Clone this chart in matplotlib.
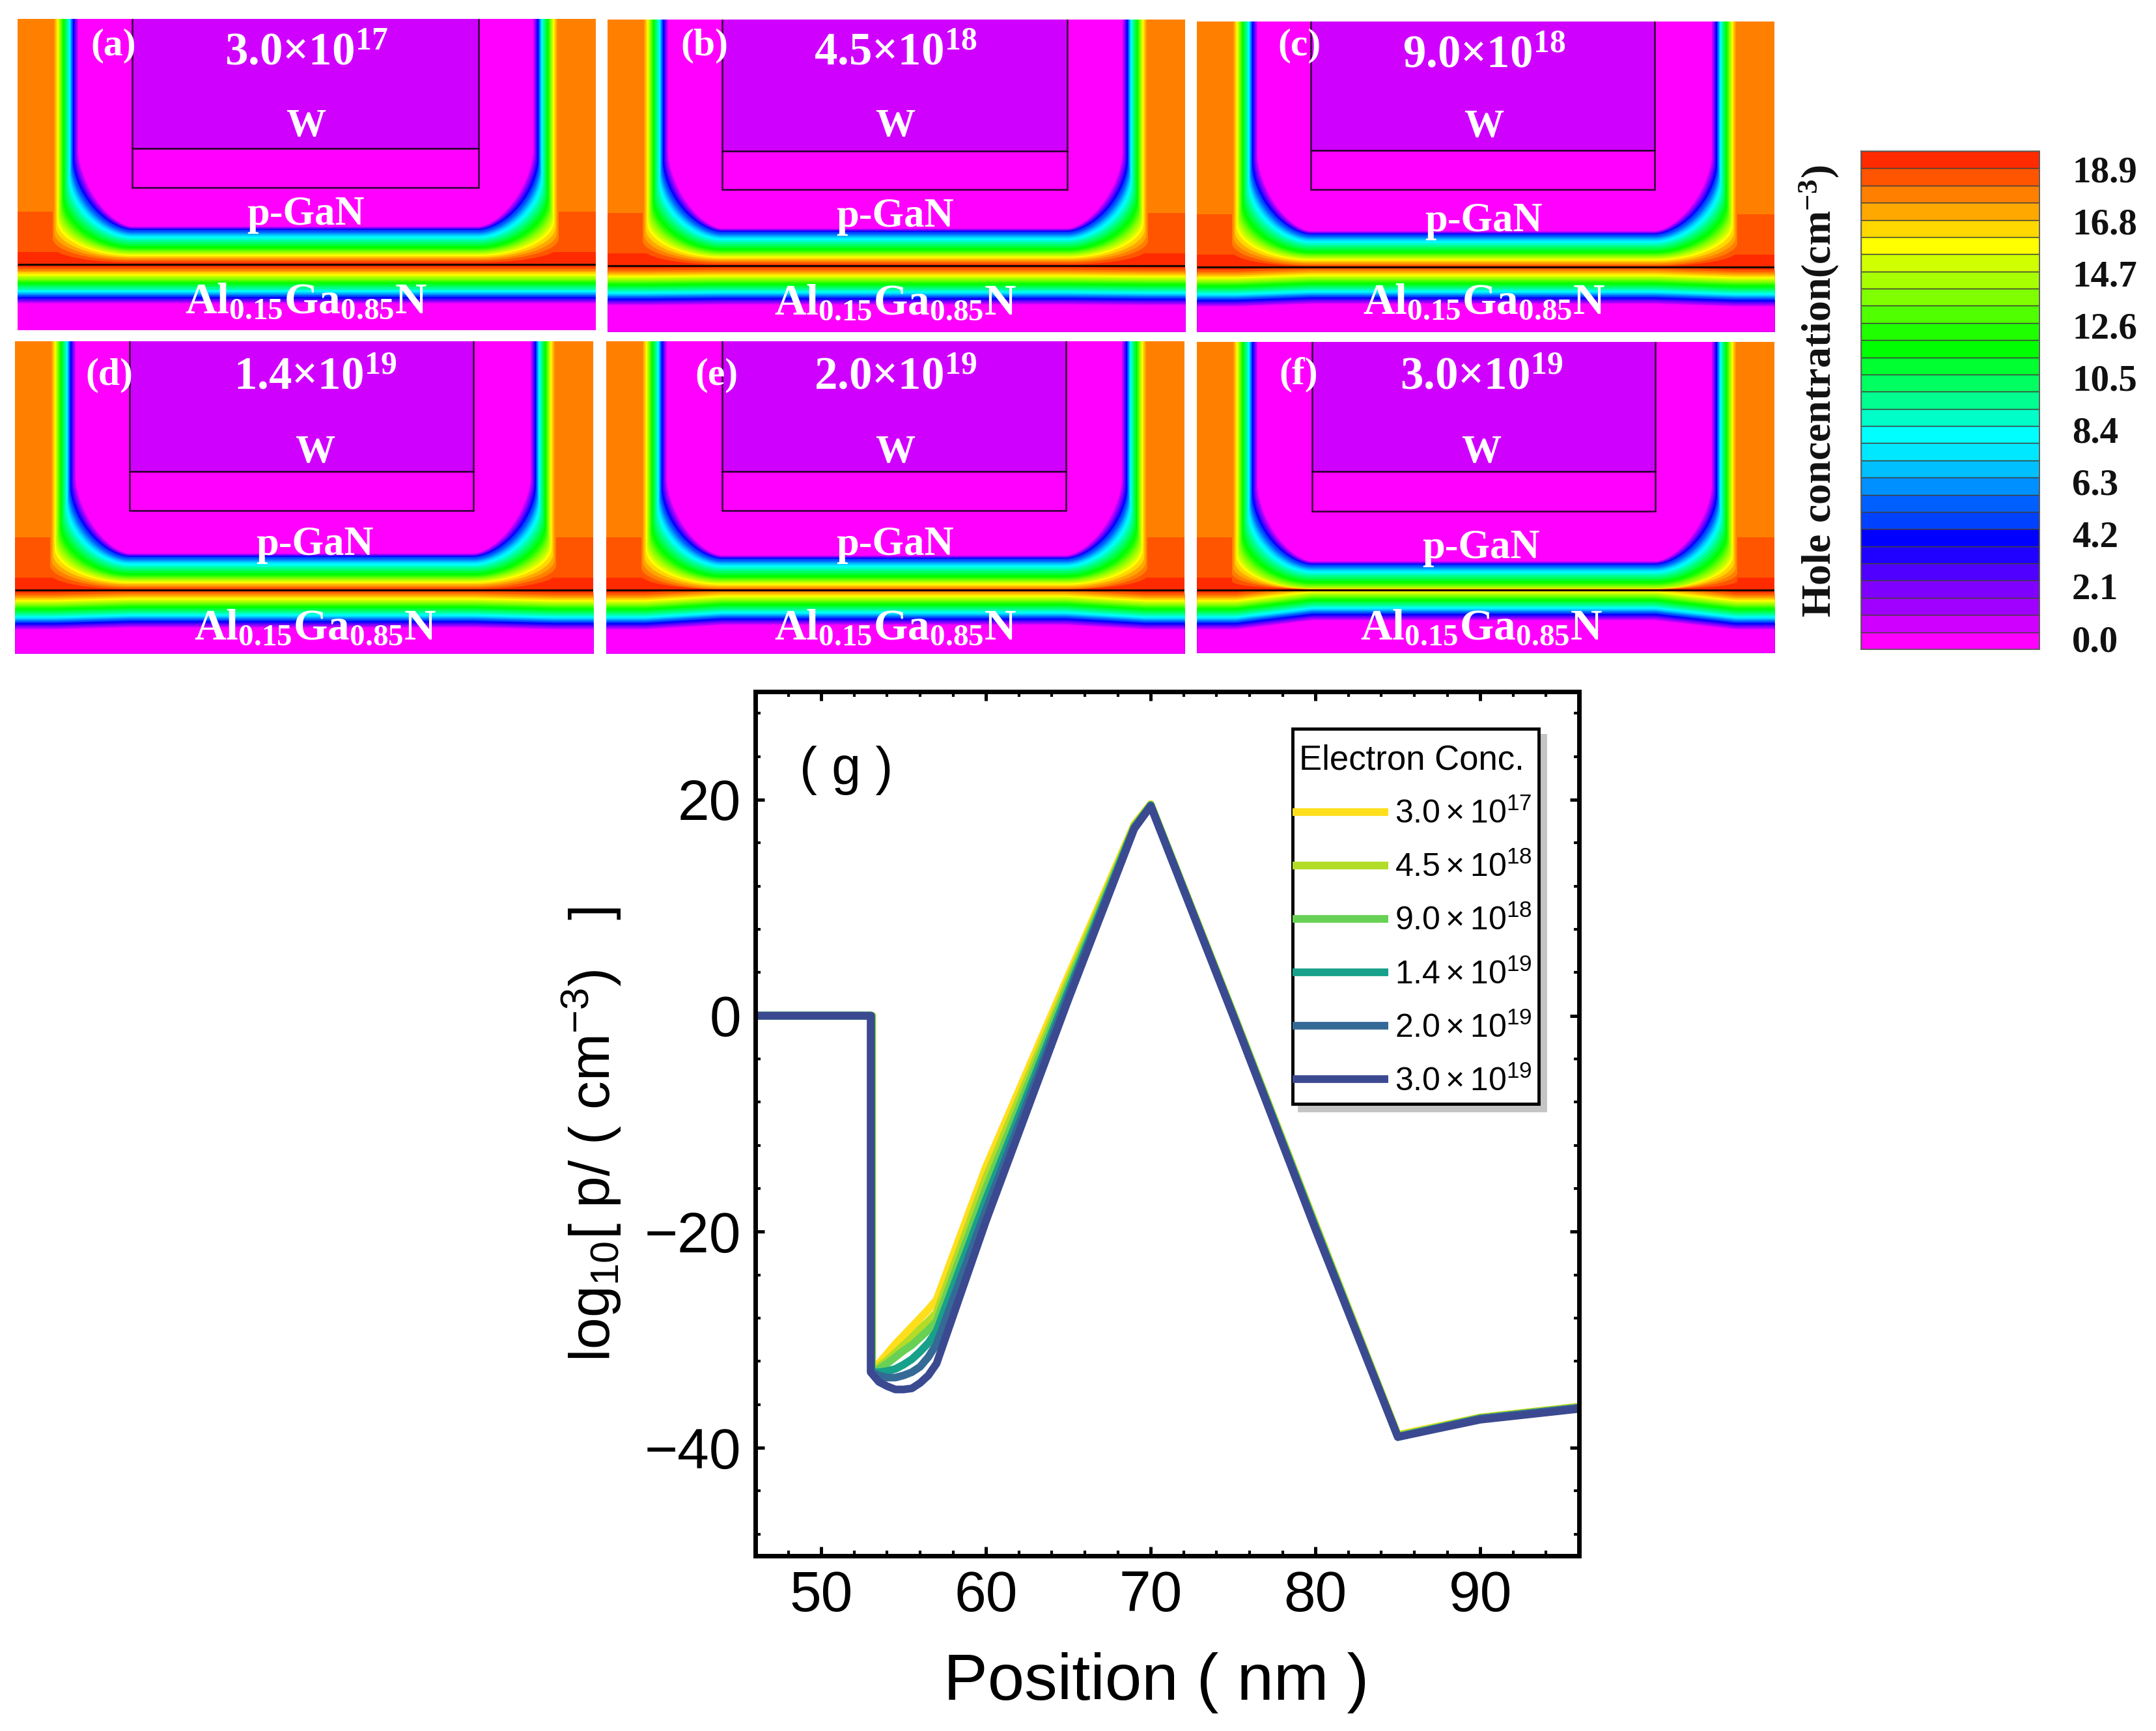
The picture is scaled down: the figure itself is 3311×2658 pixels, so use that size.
import numpy as np
import matplotlib
matplotlib.use("Agg")
import matplotlib.pyplot as plt
from matplotlib.patches import Rectangle
from matplotlib.lines import Line2D
from matplotlib.legend_handler import HandlerLine2D
from matplotlib.offsetbox import DrawingArea, VPacker

plt.rcParams['font.family'] = ['Liberation Sans', 'DejaVu Sans']
plt.rcParams['mathtext.fontset'] = 'custom'
plt.rcParams['mathtext.rm'] = 'Liberation Sans'
plt.rcParams['mathtext.it'] = 'Liberation Sans:italic'
plt.rcParams['mathtext.bf'] = 'Liberation Serif:bold'
plt.rcParams['mathtext.fallback'] = 'stix'
plt.rcParams['mathtext.default'] = 'rm'

W_PX, H_PX = 3312, 2658
DPI = 100

# ---------------- data ----------------
panel_tags = ['(a)', '(b)', '(c)', '(d)', '(e)', '(f)']
panel_conc = ['3.0{\\times}10^{17}', '4.5{\\times}10^{18}', '9.0{\\times}10^{18}',
              '1.4{\\times}10^{19}', '2.0{\\times}10^{19}', '3.0{\\times}10^{19}']
# panel frame (left, right, top, bottom) in pixels
panel_left = [27, 933, 1838, 23, 931, 1838]
panel_right = [915, 1820, 2725, 911, 1819, 2725]
panel_top = [29, 30, 33, 524, 524, 525]
panel_bottom = [507, 509, 509, 1003, 1003, 1002]
gate_left = [203, 1109, 2013, 199, 1109, 2015]
gate_right = [735, 1639, 2541, 727, 1637, 2542]
gate_w_line = [228, 232, 231, 724, 724, 724]
gate_low_line = [288, 291, 291, 784, 784, 785]
interface_y = [406, 408, 410, 906, 906, 906]
depth_shift_up = [0, 1, 3, 2, 5, 14]     # reduction of the depletion depth above the interface
depth_shift_low = [0, 1, 4, 3, 7, 14]    # reduction of the band depth below the interface (centre)
tag_x = [139, 1045, 1962, 131, 1067, 1964]
tag_y = [84, 84, 84, 590, 590, 590]
text_x = [470, 1375, 2279, 484, 1375, 2275]
conc_base = [99, 99, 103, 598, 598, 598]
w_base = [209, 209, 210, 710, 710, 710]
pgan_base = [345, 348, 355, 852, 852, 857]
algan_base = [481, 483, 482, 982, 982, 982]

# contour colours of the hole concentration, lowest to highest
band_colors = ['#ff00ff', '#d000ff', '#a000ff', '#8000ff', '#5000ff', '#2000ff', '#0000ff',
               '#0040ff', '#0060ff', '#0090ff', '#00c0ff', '#00e8ff', '#00ffff', '#00ffc8',
               '#00ff90', '#00ff60', '#00ff30', '#00ff00', '#20ff00', '#50ff00', '#80ff00',
               '#a8ff00', '#d0ff00', '#ffff00', '#ffd800', '#ffa800', '#ff8000', '#ff5500',
               '#ff2a00']
# contour band index -> distance, in pixels
band_index_read = [0, 6, 12, 17, 23, 26, 28]
upper_depth_read = [58, 53, 40, 25, 13, 6, 0]      # above the interface, under the gate
lower_depth_read = [60, 50, 40, 28, 15, 7, 0]      # below the interface
wall_depth_read = [39, 31, 25, 16, 7, 0, 0]        # gate side walls
corner_rise_read = [176, 160, 130, 100, 66, 40, 15]  # height of the corner bend above the interface
wall_margin_left = 54
wall_margin_right = 57

colorbar_ticks = [0.0, 2.1, 4.2, 6.3, 8.4, 10.5, 12.6, 14.7, 16.8, 18.9]

positions = [46, 53, 53, 53.5, 54, 54.5, 55, 55.5, 56, 56.5, 57, 60, 65, 69, 70, 75, 80, 85, 90, 96]
drop_offset = [0.10, 0.08, 0.06, 0.04, 0.02, 0.0]
series_labels = ['3.0\\times10^{17}', '4.5\\times10^{18}', '9.0\\times10^{18}',
                 '1.4\\times10^{19}', '2.0\\times10^{19}', '3.0\\times10^{19}']
series_colors = ['#ffdf1c', '#b2dc28', '#68d155', '#17a08a', '#356a97', '#3b4a90']
conc_3e17 = [0, 0, -33, -32.2, -31.3, -30.4, -29.6, -28.8, -28.0, -27.2, -26.3, -14.0, 3.7, 17.7, 19.6, 0.3, -19.3, -38.8, -37.2, -36.2]
conc_45e18 = [0, 0, -33, -32.5, -31.9, -31.2, -30.5, -29.8, -29.0, -28.3, -27.5, -15.0, 3.2, 17.6, 19.5, 0.2, -19.4, -38.9, -37.2, -36.2]
conc_9e18 = [0, 0, -33, -32.7, -32.2, -31.6, -31.0, -30.5, -29.8, -29.1, -28.3, -16.0, 2.8, 17.5, 19.5, 0.2, -19.5, -38.9, -37.3, -36.3]
conc_14e19 = [0, 0, -33, -33.0, -32.9, -32.7, -32.3, -31.8, -31.1, -30.3, -29.2, -17.0, 2.3, 17.4, 19.5, 0.1, -19.6, -39.0, -37.3, -36.3]
conc_2e19 = [0, 0, -33, -33.3, -33.5, -33.5, -33.3, -33.0, -32.5, -31.6, -30.4, -18.0, 1.9, 17.4, 19.4, 0.0, -19.7, -39.0, -37.3, -36.3]
conc_3e19 = [0, 0, -33, -33.9, -34.3, -34.6, -34.6, -34.5, -34.0, -33.3, -32.2, -19.0, 1.5, 17.3, 19.4, 0.0, -19.8, -39.0, -37.4, -36.4]
series_values = [conc_3e17, conc_45e18, conc_9e18, conc_14e19, conc_2e19, conc_3e19]

# ---------------- helpers ----------------
fig = plt.figure(figsize=(W_PX / DPI, H_PX / DPI), dpi=DPI, facecolor='white')


def axes_px(x0, x1, y0, y1):
    return fig.add_axes([x0 / W_PX, 1 - y1 / H_PX, (x1 - x0) / W_PX, (y1 - y0) / H_PX])


def band_profile(read):
    return np.interp(np.arange(len(band_colors)), band_index_read, read)


def corner_curve(x_wall, x_end, y_start, y_end, n):
    th = np.linspace(0, np.pi / 2, 40)
    xs = x_end - (x_end - x_wall) * np.cos(th) ** (2 / n)
    ys = y_start + (y_end - y_start) * np.sin(th) ** (2 / n)
    return xs, ys


WHITE_BOLD = dict(color='white', family=['Liberation Serif', 'DejaVu Serif'],
                  fontweight='bold', zorder=10)

upper_depth = band_profile(upper_depth_read)
lower_depth = band_profile(lower_depth_read)
wall_depth = band_profile(wall_depth_read)
corner_rise = band_profile(corner_rise_read)

for i in range(6):
    x0, x1, y0, y1 = panel_left[i], panel_right[i], panel_top[i], panel_bottom[i]
    gl, gr, yi = gate_left[i], gate_right[i], interface_y[i]
    ax = axes_px(x0, x1, y0, y1)
    ax.set_xlim(x0, x1)
    ax.set_ylim(y1, y0)
    ax.axis('off')
    ax.add_patch(Rectangle((x0, y0), x1 - x0, y1 - y0, fc=band_colors[26], ec='none', zorder=0))
    ax.add_patch(Rectangle((x0, yi - 81), x1 - x0, 62, fc=band_colors[27], ec='none', zorder=0))
    ax.add_patch(Rectangle((x0, yi - 19), x1 - x0, 19, fc=band_colors[28], ec='none', zorder=0))

    # nested contour bands of the p-GaN, high to low
    wl0 = x0 + wall_margin_left
    wr0 = x1 - wall_margin_right
    for k in range(27, -1, -1):
        t = (27 - k) / 27
        depth = max(upper_depth[k] - depth_shift_up[i], 1.5 if k > 23 else 2.5)
        rise = max(corner_rise[k] - depth_shift_up[i], 12)
        n = 2.0 - 0.35 * t
        lx, ly = corner_curve(wl0 + wall_depth[k], gl, yi - rise, yi - depth, n)
        rx, ry = corner_curve(wr0 - wall_depth[k], gr, yi - rise, yi - depth, n)
        if k == 27:
            top = yi - 81
        else:
            top = y0 if k <= 26 else yi - 81
        xs = np.r_[lx[0], lx, rx[::-1], rx[0]]
        ys = np.r_[top, ly, ry[::-1], top]
        ax.fill(xs, ys, color=band_colors[k], lw=0, zorder=1)

    # contour bands of the barrier, high to low
    ctrl_x = [x0, x0 + 60, gl, gr, x1 - 60, x1]
    ramp = [0, 0, 1, 1, 0, 0]
    grid_x = np.linspace(x0, x1, 300)
    bend = np.interp(grid_x, ctrl_x, ramp)
    for k in range(28, -1, -1):
        yy = yi + np.maximum(lower_depth[k] - depth_shift_low[i] * bend, 0)
        ax.fill_between(grid_x, yy, y1, color=band_colors[k], lw=0, zorder=1)

    # gate
    ax.add_patch(Rectangle((gl, y0 - 2), gr - gl, gate_w_line[i] - y0 + 2, fc='#d000ff',
                           ec='#2a0030', lw=1.8, zorder=3))
    ax.add_patch(Rectangle((gl, gate_w_line[i]), gr - gl, gate_low_line[i] - gate_w_line[i],
                           fc='#ff00ff', ec='#2a0030', lw=1.8, zorder=3))
    ax.plot([x0, x1], [yi, yi], color='#1a0a00', lw=2.2, zorder=4, solid_capstyle='butt')

    xc = text_x[i]
    ax.text(tag_x[i], tag_y[i], panel_tags[i], fontsize=43, ha='left', va='baseline', **WHITE_BOLD)
    ax.text(xc, conc_base[i], '$\\mathbf{' + panel_conc[i] + '}$', fontsize=51, ha='center',
            va='baseline', **WHITE_BOLD)
    ax.text(xc, w_base[i], 'W', fontsize=44, ha='center', va='baseline', **WHITE_BOLD)
    ax.text(xc, pgan_base[i], 'p-GaN', fontsize=45, ha='center', va='baseline', **WHITE_BOLD)
    ax.text(xc, algan_base[i], '$\\mathbf{Al_{0.15}Ga_{0.85}N}$', fontsize=48.5, ha='center',
            va='baseline', **WHITE_BOLD)

# ---------------- colour bar ----------------
cax = axes_px(2858, 3132, 232, 997)
value_low, value_high = -0.446, 19.63
edges = np.linspace(value_low, value_high, len(band_colors) + 1)
for k, col in enumerate(band_colors):
    cax.fill_between([0, 1], edges[k], edges[k + 1], facecolor=col, edgecolor='#40403a', lw=1.0)
cax.set_xlim(0, 1)
cax.set_ylim(value_low, value_high)
cax.set_xticks([])
cax.yaxis.tick_right()
cax.set_yticks(colorbar_ticks)
cax.set_yticklabels(['%.1f' % v for v in colorbar_ticks], family=['Liberation Serif'],
                    fontweight='bold', fontsize=41, color='#111111', ha='left')
cax.tick_params(axis='y', length=0, pad=36)
for s in cax.spines.values():
    s.set_color('#606060')
    s.set_linewidth(1.2)
fig.text(2794 / W_PX, 1 - 601 / H_PX, '$\\mathbf{Hole\\ concentration(cm^{-3})}$',
         rotation=90, ha='center', va='center', fontsize=46, color='#111111',
         family=['Liberation Serif'])

# ---------------- line chart ----------------
ag = axes_px(1160, 2425, 1062, 2389)
handles = []
for idx, (vals, col, lab) in enumerate(zip(series_values, series_colors, series_labels)):
    xs = np.array(positions, dtype=float)
    xs[1:3] += drop_offset[idx]
    line, = ag.plot(xs, vals, color=col, lw=8.5, label='$' + lab + '$',
                    solid_joinstyle='round', solid_capstyle='butt')
    handles.append(line)
ag.set_xlim(46, 96)
ag.set_ylim(-50, 30)
ag.set_xticks([50, 60, 70, 80, 90])
ag.set_yticks([-40, -20, 0, 20])
ag.set_xticks(np.arange(48, 96, 2), minor=True)
ag.set_yticks(np.arange(-48, 30, 4), minor=True)
ag.tick_params(which='major', direction='in', length=10, width=3.6, top=True, right=True,
               labelsize=63, pad=16)
ag.tick_params(which='minor', direction='in', length=5.5, width=3, top=True, right=True)
for s in ag.spines.values():
    s.set_linewidth(5)
ag.set_xlabel('Position ( nm )', fontsize=73, va='baseline')
ag.xaxis.set_label_coords((1776 - 1160) / 1265, -(2610 - 2389) / 1327)
ag.set_ylabel('log$_{10}$[ p/ ( cm$^{-3}$)   ]', fontsize=63, va='center')
ag.yaxis.set_label_coords(-(1160 - 909) / 1265, 1 - (1742 - 1062) / 1327)
fig.text(1228 / W_PX, 1 - 1183 / H_PX, '( g )', fontsize=58, ha='left', va='center')

leg = ag.legend(handles=handles, loc='upper left',
                bbox_to_anchor=((1985 - 1160) / 1265, 1 - (1119 - 1062) / 1327),
                borderaxespad=0, frameon=True, fancybox=False, framealpha=1,
                edgecolor='black', fontsize=36, title='Electron Conc.',
                title_fontsize=38, alignment='left', handlelength=2.75, handletextpad=0.2,
                labelspacing=0.68, borderpad=0.2,
                handler_map={Line2D: HandlerLine2D(xpad=-0.2)},
                shadow={'color': '#c4c4c4', 'alpha': 1, 'ox': 7, 'oy': -7})
leg.get_frame().set_linewidth(3.5)
# extra room above the legend title
title_box = leg._legend_box._children[0]
spacer = DrawingArea(1, 10)
title_stack = VPacker(pad=0, sep=0, align='left', children=[spacer, title_box])
title_stack.set_figure(fig)
spacer.set_figure(fig)
leg._legend_box._children[0] = title_stack

fig.savefig('out.png', dpi=DPI)
